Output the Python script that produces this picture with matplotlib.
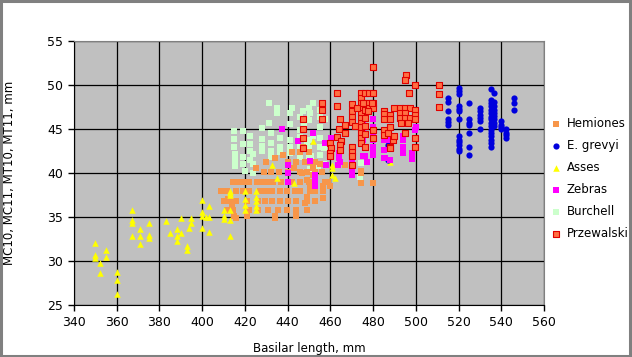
import numpy as np
import matplotlib
matplotlib.use("Agg")
import matplotlib.pyplot as plt
from matplotlib.patches import Rectangle

# --- data (basilar length mm, MC/MT width mm) ---
hemiones_x = [442, 446, 450,
              430, 440, 444, 448, 450, 453,
              429, 432, 436, 440, 446, 449, 453, 456,
              414.5, 417, 419, 422, 425.5, 428.5, 431, 433, 437, 442, 446, 450, 453, 457.5, 459,
              409, 411.5, 416, 419, 422, 427, 430, 432.5, 436.5, 439.5, 443.5, 446, 450.5, 456.5,
              410, 413, 416, 421, 426, 429.5, 432.5, 436.5, 440, 444, 449, 453,
              411.5, 414.5, 422, 426, 431, 435.5, 439.5, 444, 449,
              415, 421, 434, 444, 416, 434,
              446.5, 449, 450.5, 453, 449, 448, 456.5, 460, 456.5,
              474.5, 474.5, 480, 467, 474.5, 452, 452, 412, 414,
              434, 438, 425, 443, 447, 455]
hemiones_y = [42.4, 42.4, 42.4,
              41.2, 41.2, 41.2, 41.2, 41.2, 41.2,
              40.1, 40.1, 40.1, 40.1, 40.1, 40.1, 40.1, 40.1,
              39.0, 39.0, 39.0, 39.0, 39.0, 39.0, 39.0, 39.0, 39.0, 39.0, 39.0, 39.0, 39.0, 39.0, 39.0,
              37.9, 37.9, 37.9, 37.9, 37.9, 37.9, 37.9, 37.9, 37.9, 37.9, 37.9, 37.9, 37.9, 37.9,
              36.8, 36.8, 36.8, 36.8, 36.8, 36.8, 36.8, 36.8, 36.8, 36.8, 36.8, 36.8,
              35.8, 35.8, 35.8, 35.8, 35.8, 35.8, 35.8, 35.8, 35.8,
              35.1, 35.1, 35.1, 35.1, 34.9, 34.9,
              40.0, 39.2, 38.5, 37.9, 37.3, 36.6, 38.5, 38.5, 37.2,
              40.2, 38.9, 38.9, 40.9, 40.0, 40.6, 39.8, 37.0, 36.2,
              41.7, 42.0, 40.6, 40.6, 42.9, 41.0]

grevyi_x = [515] * 6 + [520] * 13 + [525] * 7 + [530] * 6 + [535] * 16 + [536.5] * 9 \
    + [540] * 4 + [542] * 4 + [546] * 3 + [487, 487]
grevyi_y = [48.5, 48.1, 47.0, 46.1, 45.8, 45.5,
            49.7, 49.3, 49.0, 47.6, 47.3, 47.0, 46.1, 44.2, 43.8, 43.5, 43.2, 42.7, 42.5,
            48.0, 46.1, 45.7, 45.4, 44.5, 43.0, 42.0,
            47.4, 47.0, 46.6, 46.2, 45.9, 45.0,
            49.6, 48.3, 47.9, 47.6, 47.2, 46.8, 46.4, 46.1, 45.7, 45.3, 44.9, 44.5, 44.2, 43.8, 43.4, 43.0,
            49.1, 48.1, 47.6, 47.2, 46.8, 46.5, 46.1, 45.7, 45.3,
            45.9, 45.5, 45.2, 45.0,
            45.0, 44.6, 44.3, 44.0,
            48.5, 48.0, 47.2,
            43.2, 41.5]

asses_x = [350, 350, 350, 355, 355, 352, 352, 360, 360, 360,
           367, 367, 367, 367, 371, 371, 371, 375, 375, 375,
           383, 385, 388, 388, 388, 390, 390, 393, 393, 395, 395, 394,
           400, 403, 400, 400, 402, 403, 400, 403,
           410, 410, 410, 413, 413, 413, 413, 413, 413,
           420, 420, 420, 420, 425, 425, 425, 425, 425,
           432.5, 435, 443, 452, 461, 461, 461, 462, 488]
asses_y = [32.0, 30.7, 30.3, 31.3, 30.5, 29.8, 28.6, 28.8, 27.8, 26.2,
           35.8, 34.7, 34.3, 32.8, 33.6, 32.8, 31.9, 34.3, 33.0, 32.6,
           34.5, 33.2, 33.6, 32.8, 32.3, 34.9, 33.2, 31.7, 31.3, 34.9, 34.3, 33.8,
           36.9, 36.3, 35.6, 35.1, 35.0, 35.0, 33.8, 33.3,
           35.8, 35.1, 34.8, 37.7, 37.9, 37.5, 35.8, 34.7, 32.8,
           37.9, 37.0, 36.4, 35.8, 37.9, 37.3, 36.8, 36.3, 35.8,
           40.9, 39.4, 38.9, 43.6, 40.6, 39.8, 40.9, 39.4, 41.3]

zebras_x = [437.5, 440, 440, 440, 445, 452, 453, 453, 453, 458, 458, 450.5,
            460.5, 457.5, 464, 464, 464.5, 470, 470,
            475.5, 475.5, 475.5, 475.5, 480, 480, 480, 480, 480, 480,
            485, 485, 485, 485, 488, 488, 494, 494, 494, 494, 498, 498,
            499.5, 499.5, 500, 463.5, 470, 476, 477, 480, 485.5, 488]
zebras_y = [45.0, 40.9, 40.0, 39.0, 43.6, 44.5, 39.8, 39.2, 38.5, 43.4, 40.9, 41.4,
            44.0, 43.4, 42.3, 41.7, 41.2, 41.1, 40.4,
            45.9, 44.7, 43.8, 41.9, 43.8, 43.0, 42.1, 46.1, 45.2, 44.5,
            46.1, 42.6, 41.7, 43.8, 43.8, 43.0, 43.8, 43.0, 42.3, 44.2, 42.3, 41.6,
            46.1, 44.9, 45.2, 40.9, 39.8, 41.9, 41.2, 42.3, 41.7, 41.5]

burchell_x = [431.5, 435, 431.5, 428, 428, 428, 428,
              422.5, 422.5, 422.5, 422.5, 419, 419,
              415.5, 415.5, 415.5, 419, 419, 420, 424, 424, 424,
              432, 432, 432, 432, 436.5, 436.5, 436.5,
              441, 441, 441, 441, 441,
              446, 446, 446, 446, 446, 446,
              450, 450, 450, 450,
              455, 455, 455, 455, 455, 457, 457,
              435, 442, 447, 450, 457.5,
              474, 474.5, 474.5, 415, 415, 415,
              452, 455, 450.5, 449, 447.5, 452, 449, 448, 451, 454, 452, 450.5]
burchell_y = [48.0, 46.8, 45.7, 45.1, 43.9, 43.1, 42.5,
              44.2, 43.3, 42.5, 41.5, 44.8, 43.3,
              42.2, 41.5, 40.8, 41.8, 41.0, 40.2, 42.2, 41.0, 40.0,
              44.5, 43.4, 42.5, 41.8, 44.0, 43.0, 42.4,
              46.8, 45.6, 43.8, 43.0, 42.3,
              46.4, 44.9, 44.1, 43.0, 42.3, 41.8,
              46.0, 43.8, 42.8, 41.8,
              46.4, 45.2, 44.0, 43.0, 42.0, 42.8, 41.0,
              47.4, 47.4, 47.0, 47.4, 46.1,
              39.5, 41.1, 40.0, 44.8, 43.9, 43.0,
              47.9, 47.2, 46.8, 46.1, 45.3, 44.2, 43.4, 42.7, 41.9, 40.8, 41.1, 40.5]

przew_x = [480, 495.5, 495, 499.5, 497, 463,
           474.5, 474.5, 474.5, 474.5, 474.5, 474.5, 474.5, 474.5, 474.5, 474.5, 474.5,
           476, 476, 476, 476, 476, 476,
           478, 480, 478, 480, 478, 480,
           456, 456, 456, 463, 470,
           470, 470, 470, 471.5,
           464.5, 467, 464, 467, 463, 465,
           447, 447, 447, 447,
           460, 460.5, 460, 460,
           464.5, 464.5, 470, 470, 470, 470, 476,
           480, 480,
           485, 485, 485, 485, 485,
           487, 489.5, 490,
           488, 488, 488, 488,
           490, 492.5, 495, 497.5, 492.5, 495, 492.5, 495, 497.5, 493, 496.5,
           499.5, 499.5, 499.5, 499.5, 499.5, 495,
           511, 511, 511,
           472.5, 475.5, 479.5, 477.5, 488]
przew_y = [52.1, 51.1, 50.6, 50.0, 49.1, 49.1,
           49.1, 48.5, 48.0, 47.4, 46.8, 46.3, 45.7, 45.2, 44.6, 44.0, 43.4,
           49.1, 48.0, 47.2, 46.3, 45.3, 44.4,
           49.1, 49.1, 48.0, 48.0, 47.4, 47.4,
           48.0, 47.2, 46.1, 47.6, 47.8,
           47.0, 46.4, 45.8, 45.3,
           46.1, 45.5, 45.0, 44.6, 44.1, 43.6,
           46.1, 45.0, 44.0, 42.8,
           43.4, 42.8, 42.3, 41.9,
           43.2, 42.6, 43.0, 42.4, 41.9, 40.9, 43.0,
           44.9, 44.0,
           47.0, 46.7, 46.1, 44.9, 44.3,
           44.5, 43.8, 44.2,
           46.6, 46.1, 45.2, 43.0,
           47.4, 47.4, 47.4, 47.4, 46.8, 46.8, 46.3, 46.3, 46.3, 45.7, 45.7,
           47.2, 46.6, 46.1, 44.0, 43.0, 44.5,
           50.0, 49.0, 47.5,
           47.4, 48.0, 48.0, 47.0, 42.8]

x_ticks = list(range(340, 561, 20))
y_ticks = list(range(25, 56, 5))

plt.rcParams['font.family'] = ['DejaVu Sans']
fig = plt.figure(figsize=(6.32, 3.57), dpi=100)
fig.patch.set_facecolor('white')
fig.patches.append(Rectangle((0.002, 0.003), 0.995, 0.993, transform=fig.transFigure,
                             fill=False, edgecolor='#808080', linewidth=2.2))

ax = fig.add_axes([74 / 632, 52 / 357, 470 / 632, 264 / 357])
ax.set_facecolor('#C0C0C0')

h1 = ax.scatter(hemiones_x, hemiones_y, marker='s', s=15, color='#F7964A', linewidths=0, zorder=3)
h2 = ax.scatter(grevyi_x, grevyi_y, marker='o', s=20, color='#0000DD', linewidths=0, zorder=5)
h3 = ax.scatter(asses_x, asses_y, marker='^', s=22, color='#FFFF00', linewidths=0, zorder=4)
h4 = ax.scatter(zebras_x, zebras_y, marker='s', s=15, color='#FF00FF', linewidths=0, zorder=5)
h5 = ax.scatter(burchell_x, burchell_y, marker='s', s=15, color='#CCFFCC', linewidths=0, zorder=2)
h6 = ax.scatter(przew_x, przew_y, marker='s', s=16, facecolor='#FF7043', edgecolor='#E00000',
                linewidths=0.8, zorder=6)

ax.set_xlim(340, 560)
ax.set_ylim(25, 55)
ax.set_xticks(x_ticks)
ax.set_yticks(y_ticks)
ax.grid(True, color='black', linewidth=0.9)
ax.set_axisbelow(True)
ax.tick_params(direction='out', length=4, width=1, color='black', labelsize=9, pad=4)
for side in ['top', 'right']:
    ax.spines[side].set_color('#808080')
for side in ['left', 'bottom']:
    ax.spines[side].set_color('black')

ax.set_xlabel('Basilar length, mm', fontsize=8.5, labelpad=9)
ax.set_ylabel('MC10, MC11, MT10, MT11, mm', fontsize=8.5, labelpad=22)

labels = ['Hemiones', 'E. grevyi', 'Asses', 'Zebras', 'Burchell', 'Przewalski']
fig.legend([h1, h2, h3, h4, h5, h6], labels, loc='center left',
           bbox_to_anchor=(548 / 632, 0.5), frameon=False, fontsize=8.5,
           handlelength=0.6, handletextpad=0.6, labelspacing=0.75,
           scatterpoints=1, borderaxespad=0)

fig.savefig('out.png', dpi=100)
